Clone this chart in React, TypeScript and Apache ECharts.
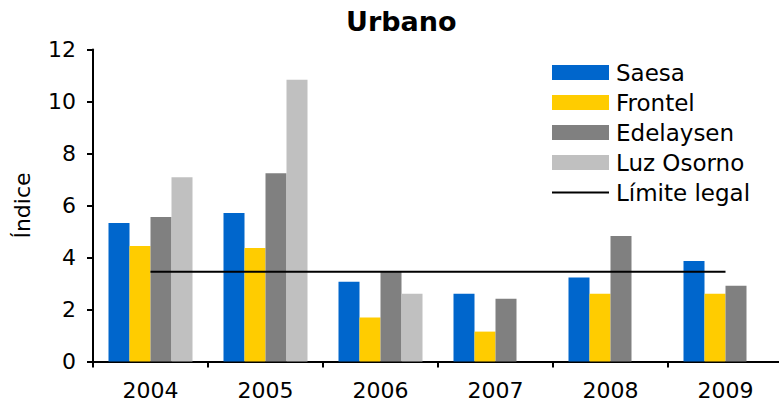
import React, { useEffect, useRef } from "react";
import * as echarts from "echarts";

const categories = ["2004", "2005", "2006", "2007", "2008", "2009"];
const saesa = [5.33, 5.71, 3.07, 2.61, 3.23, 3.87];
const frontel = [4.44, 4.37, 1.69, 1.15, 2.61, 2.61];
const edelaysen = [5.56, 7.24, 3.44, 2.41, 4.83, 2.91];
const luzOsorno: (number | null)[] = [7.09, 10.84, 2.61, null, null, null];
const limiteLegal = [3.45, 3.45, 3.45, 3.45, 3.45, 3.45];
const yTicks = { min: 0, max: 12, interval: 2 };

const FONT = "DejaVu Sans, Verdana, sans-serif";
const LINE_ICON =
  "path://M0,0 L57,0 L57,0 Z M0,6.5 L57,6.5 L57,8.5 L0,8.5 Z M0,15 L57,15 L57,15 Z";

export default function App() {
  const ref = useRef<HTMLDivElement>(null);
  useEffect(() => {
    document.body.style.margin = "0";
    if (!ref.current) return;
    const chart = echarts.init(ref.current, undefined, { renderer: "svg" });
    const bar = (name: string, data: (number | null)[], color: string) => ({
      name,
      type: "bar",
      data,
      barWidth: 21,
      barGap: "0%",
      itemStyle: { color },
    });
    chart.setOption({
      animation: false,
      title: {
        text: "Urbano",
        left: 346,
        top: 8,
        padding: 0,
        textStyle: { fontFamily: FONT, fontSize: 27, fontWeight: "bold", color: "#000" },
      },
      legend: {
        orient: "vertical",
        left: 552,
        top: 61,
        padding: 0,
        itemWidth: 57,
        itemHeight: 15,
        itemGap: 7,
        textStyle: { fontFamily: FONT, fontSize: 23, color: "#000", padding: [0, 0, 0, 2] },
        data: [
          { name: "Saesa", icon: "rect" },
          { name: "Frontel", icon: "rect" },
          { name: "Edelaysen", icon: "rect" },
          { name: "Luz Osorno", icon: "rect" },
          { name: "Límite legal", icon: LINE_ICON, itemStyle: { color: "#000" } },
        ],
      },
      grid: { left: 93, top: 49.5, width: 690, height: 312, outerBoundsMode: "none", containLabel: false },
      xAxis: {
        type: "category",
        data: categories,
        boundaryGap: true,
        axisLine: { lineStyle: { color: "#000", width: 2 } },
        axisTick: { show: true, length: 6, lineStyle: { color: "#000", width: 2 } },
        axisLabel: { color: "#000", fontFamily: FONT, fontSize: 22, lineHeight: 20, margin: 19 },
      },
      yAxis: {
        type: "value",
        min: yTicks.min,
        max: yTicks.max,
        interval: yTicks.interval,
        name: "Índice",
        nameLocation: "middle",
        nameGap: 60,
        nameRotate: 90,
        nameTextStyle: { fontFamily: FONT, fontSize: 22, color: "#000" },
        splitLine: { show: false },
        axisLine: { show: true, lineStyle: { color: "#000", width: 2 } },
        axisTick: { show: true, length: 6, lineStyle: { color: "#000", width: 2 } },
        axisLabel: { color: "#000", fontFamily: FONT, fontSize: 22, margin: 17 },
      },
      series: [
        bar("Saesa", saesa, "#0066CC"),
        bar("Frontel", frontel, "#FFCC00"),
        bar("Edelaysen", edelaysen, "#808080"),
        bar("Luz Osorno", luzOsorno, "#C0C0C0"),
        {
          name: "Límite legal",
          type: "line",
          data: limiteLegal,
          symbol: "none",
          lineStyle: { color: "#000", width: 2 },
          itemStyle: { color: "#000" },
          z: 5,
        },
      ],
    });
    return () => chart.dispose();
  }, []);
  return <div ref={ref} style={{ width: 779, height: 403 }} />;
}
